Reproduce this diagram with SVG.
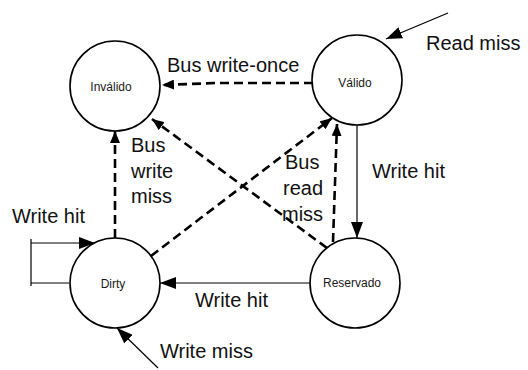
<svg xmlns="http://www.w3.org/2000/svg" width="528" height="370" viewBox="0 0 528 370">
<defs>
<style>
.node circle{fill:#fff;stroke:#000;stroke-width:1.6}
.node text{font-family:"Liberation Sans",Arial,sans-serif;font-size:12px;fill:#1a1a1a;text-anchor:middle}
.lbl{font-family:"Liberation Sans",Arial,sans-serif;font-size:20px;fill:#111}
.dash{fill:none;stroke:#000;stroke-width:2.6;stroke-dasharray:9,5}
.solid{fill:none;stroke:#000;stroke-width:1.2}
</style>
<marker id="ad" markerUnits="userSpaceOnUse" viewBox="0 0 12 10" refX="12" refY="5" markerWidth="12" markerHeight="10" orient="auto">
<path d="M0,0 L12,5 L0,10 z" fill="#000"/>
</marker>
<marker id="as" markerUnits="userSpaceOnUse" viewBox="0 0 16 12" refX="16" refY="6" markerWidth="16" markerHeight="12" orient="auto">
<path d="M0,0 L16,6 L0,12 z" fill="#000"/>
</marker>
</defs>
<rect width="528" height="370" fill="#fff"/>
<g id="connectors">
<path class="dash" d="M313,83 L217,83 L162,85" marker-end="url(#ad)"/>
<path class="dash" d="M115,238 L115,131" marker-end="url(#ad)"/>
<path class="dash" d="M327,248 L152,119" marker-end="url(#ad)"/>
<path class="dash" d="M151,256 L332,118" marker-end="url(#ad)"/>
<path class="dash" d="M333,242 L337,124" marker-end="url(#ad)"/>
<path class="solid" d="M357,125 L357,238" marker-end="url(#as)"/>
<path class="solid" d="M312,283 L160,283" marker-end="url(#as)"/>
<path class="solid" d="M69,283 L31,283"/>
<path class="solid" d="M31,239 L31,286"/>
<path class="solid" d="M31,243 L95,243" marker-end="url(#as)"/>
<path class="solid" d="M158,368 L117,328" marker-end="url(#as)"/>
<path class="solid" d="M448,13 L386,39" marker-end="url(#as)"/>
</g>
<g id="labels">
<text class="lbl" x="167" y="72">Bus write-once</text>
<text class="lbl" x="426" y="50">Read miss</text>
<text class="lbl" x="131" y="152">Bus</text>
<text class="lbl" x="131" y="178">write</text>
<text class="lbl" x="131" y="203">miss</text>
<text class="lbl" x="285" y="169">Bus</text>
<text class="lbl" x="283" y="195">read</text>
<text class="lbl" x="282" y="221">miss</text>
<text class="lbl" x="372" y="178">Write hit</text>
<text class="lbl" x="195" y="307">Write hit</text>
<text class="lbl" x="12" y="223">Write hit</text>
<text class="lbl" x="160" y="358">Write miss</text>
</g>
<g id="invalido" class="node"><circle cx="115" cy="86" r="45"/><text x="111" y="91">Inválido</text></g>
<g id="valido" class="node"><circle cx="357" cy="80" r="45"/><text x="355" y="87">Válido</text></g>
<g id="reservado" class="node"><circle cx="355" cy="283" r="45"/><text x="352" y="287">Reservado</text></g>
<g id="dirty" class="node"><circle cx="115" cy="283" r="45"/><text x="113" y="288">Dirty</text></g>
</svg>
